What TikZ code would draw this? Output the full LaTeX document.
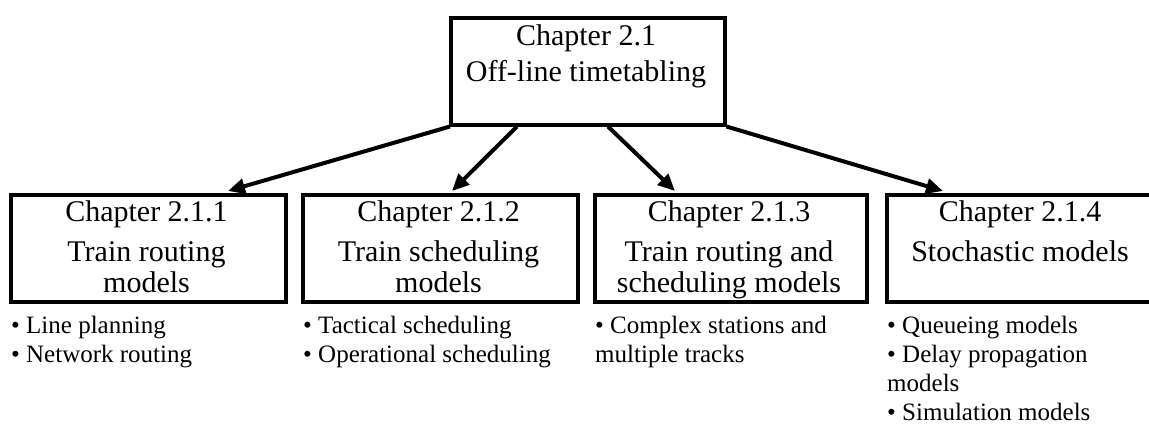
\documentclass[tikz,border=0pt]{standalone}
\usepackage{fontspec}
\setmainfont{Liberation Serif}
\usetikzlibrary{arrows.meta}
\begin{document}
\begin{tikzpicture}[x=1pt,y=-1pt,
  box/.style={draw,line width=3.5pt,minimum width=274pt,minimum height=107pt,inner sep=0pt,anchor=north west},
  boxtext/.style={inner sep=0pt,anchor=base,font=\fontsize{30}{36}\selectfont},
  bullet/.style={inner sep=0pt,anchor=base west,font=\fontsize{25}{29}\selectfont},
  link/.style={line width=4pt,-{Triangle[length=17pt,width=15pt]}}]
\useasboundingbox (0,0) rectangle (1149,431);
\clip (0,0) rectangle (1149,431);
% top box
\node[box] (top) at (449,16) {};
\node[boxtext] (top1) at (586,45) {Chapter 2.1};
\node[boxtext] (top2) at (586,81) {Off-line timetabling};
% bottom boxes
\node[box,minimum width=275pt] (b1) at (9,193) {};
\node[box,minimum width=275pt] (b2) at (301,193) {};
\node[box,minimum width=272pt] (b3) at (593,193) {};
\node[box,minimum width=275pt] (b4) at (885,193) {};
% box texts
\node[boxtext] (b1a) at (146.5,221) {Chapter 2.1.1};
\node[boxtext] (b1b) at (146.5,261) {Train routing};
\node[boxtext] (b1c) at (146.5,292) {models};
\node[boxtext] (b2a) at (438.5,221) {Chapter 2.1.2};
\node[boxtext] (b2b) at (438.5,261) {Train scheduling};
\node[boxtext] (b2c) at (438.5,292) {models};
\node[boxtext] (b3a) at (729,221) {Chapter 2.1.3};
\node[boxtext] (b3b) at (729,261) {Train routing and};
\node[boxtext] (b3c) at (729,292) {scheduling models};
\node[boxtext] (b4a) at (1020,221) {Chapter 2.1.4};
\node[boxtext] (b4b) at (1020,261) {Stochastic models};
% bullets
\node[bullet] (l1a) at (11,333) {\textbullet{} Line planning};
\node[bullet] (l1b) at (11,362) {\textbullet{} Network routing};
\node[bullet] (l2a) at (303,333) {\textbullet{} Tactical scheduling};
\node[bullet] (l2b) at (303,362) {\textbullet{} Operational scheduling};
\node[bullet] (l3a) at (595,333) {\textbullet{} Complex stations and};
\node[bullet] (l3b) at (595,362) {multiple tracks};
\node[bullet] (l4a) at (887,333) {\textbullet{} Queueing models};
\node[bullet] (l4b) at (887,362) {\textbullet{} Delay propagation};
\node[bullet] (l4c) at (887,391) {models};
\node[bullet] (l4d) at (887,420) {\textbullet{} Simulation models};
% connectors
\draw[link] ([xshift=1pt]top.south west) -- ([xshift=219pt,yshift=2pt]b1.north west);
\draw[link] ([xshift=68pt]top.south west) -- ([xshift=151pt,yshift=2pt]b2.north west);
\draw[link] ([xshift=159pt]top.south west) -- ([xshift=82pt,yshift=2pt]b3.north west);
\draw[link] (top.south east) -- ([xshift=58pt,yshift=2pt]b4.north west);
\end{tikzpicture}
\end{document}
